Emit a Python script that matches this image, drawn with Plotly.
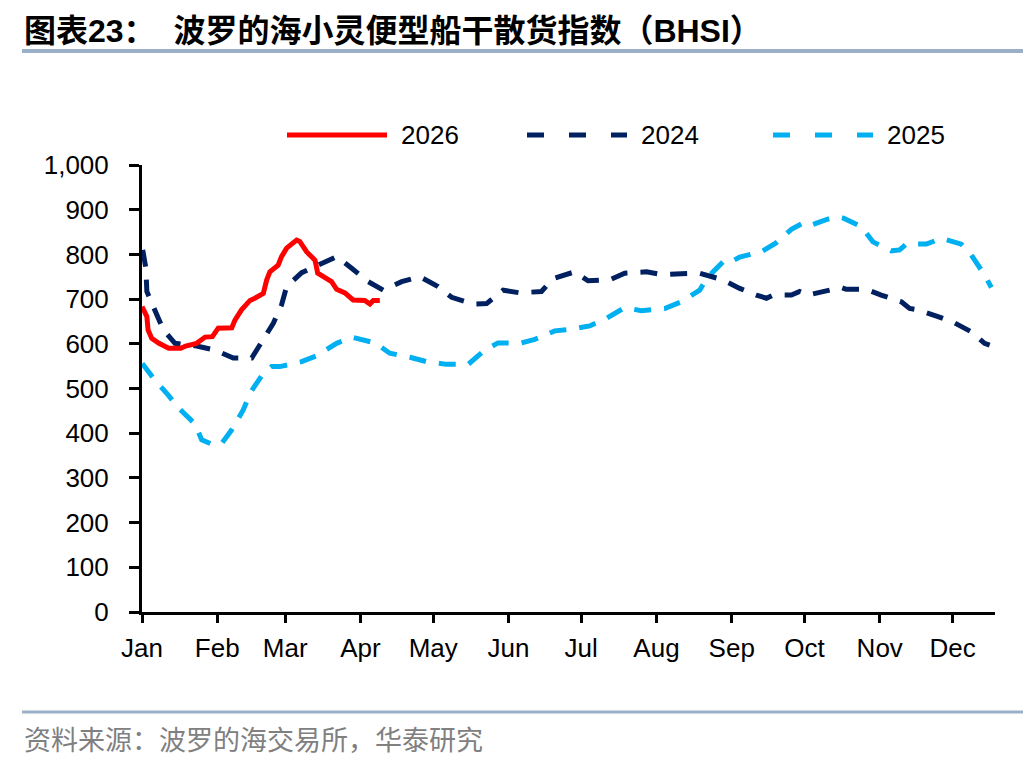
import plotly.graph_objects as go

# ---------------- data ----------------
months = ["Jan", "Feb", "Mar", "Apr", "May", "Jun", "Jul", "Aug", "Sep", "Oct", "Nov", "Dec"]
month_start_day = [1, 32, 60, 91, 121, 152, 182, 213, 244, 274, 305, 335]
y_ticks = [0, 100, 200, 300, 400, 500, 600, 700, 800, 900, 1000]

day_2026 = [1, 3, 3.5, 5, 8, 12, 17, 19, 23.5, 27, 30, 32.4, 38, 39.3, 42, 45.5, 47.5, 51, 52.4,
            53.7, 57.1, 58.5, 60.6, 64.7, 66, 68.8, 72.3, 73.4, 77.1, 79.1, 81.2, 84.6, 88, 92.8,
            94.9, 96.3, 99]
bhsi_2026 = [683, 661, 631, 612, 601, 590, 590, 595, 601, 615, 616, 635, 636, 653, 676, 697, 702,
             713, 743, 761, 776, 795, 814, 832, 829, 806, 787, 758, 746, 739, 722, 714, 698, 697,
             689, 697, 697]

day_2024 = [1.3, 2.6, 3, 6.4, 9.8, 14.6, 23.5, 31.1, 38.6, 46.2, 51, 55.1, 58.5, 60.6, 66.8, 73.6,
            81.2, 87.4, 94.2, 100.4, 108, 115.5, 123, 128.6, 137.4, 143, 149.8, 156.7, 165.6, 170.4,
            179.3, 184.8, 193.7, 199.9, 208.9, 215, 224.6, 230.8, 240.4, 247.3, 254.2, 258.3, 261,
            268.6, 272, 275.4, 284.4, 289.2, 291.2, 299.5, 305.6, 313.9, 317.3, 320.7, 329, 335.1,
            342.7, 348.2, 350.3]
bhsi_2024 = [810, 769, 717, 676, 631, 601, 595, 586, 568, 568, 612, 646, 687, 728, 759, 776, 795,
             769, 739, 720, 739, 750, 728, 704, 689, 690, 720, 714, 717, 746, 761, 741, 743, 758,
             761, 755, 756, 758, 743, 724, 709, 702, 709, 709, 717, 709, 720, 726, 722, 722, 709,
             694, 679, 676, 661, 649, 627, 601, 597]

day_2025 = [1.1, 5.7, 11.8, 16.7, 22.8, 25.6, 30.4, 33.8, 37.9, 42.7, 45.9, 51, 54.4, 57.8, 66.8,
            72.9, 81.2, 87.4, 97, 103.1, 111.4, 118.3, 126.5, 135.4, 142.3, 147.7, 156.7, 162.9,
            171.1, 177.3, 185.5, 192.4, 199.9, 206.8, 216.4, 223.3, 230.8, 233.6, 241.1, 243.9,
            247.3, 256.2, 262.1, 268.6, 272.7, 274.8, 283, 287.1, 290.1, 297.4, 302.2, 309.8,
            313.2, 315.9, 324.2, 330.4, 338.6, 342.7, 348.2, 351]
bhsi_2025 = [556, 523, 485, 453, 421, 385, 374, 377, 407, 452, 493, 534, 549, 549, 560, 573, 601,
             615, 602, 579, 570, 560, 554, 554, 586, 602, 601, 610, 629, 632, 640, 657, 681, 674,
             679, 694, 720, 746, 787, 784, 794, 806, 825, 856, 868, 862, 878, 884, 881, 862, 828,
             808, 810, 823, 823, 836, 823, 799, 754, 726]

series_names = ["2026", "2024", "2025"]
series_colors = ["#FF0000", "#002060", "#00B0F0"]
series_dash = ["solid", "17px,13px", "17px,13px"]

title_text = "图表23：  波罗的海小灵便型船干散货指数（BHSI）"
source_text = "资料来源：波罗的海交易所，华泰研究"

# ---------------- figure ----------------
W, H = 1036, 764
OFF = 8  # page body margin offset
REF_L, REF_R, REF_T, REF_B = 142, 995, 165, 612
L = REF_L - OFF
T = REF_T - OFF
R = W - (REF_R - OFF)
B = H - (REF_B - OFF)
PW, PH = W - L - R, H - T - B


def px_x(p):
    return (p - REF_L) / PW


def px_y(p):
    return (REF_B - p) / PH


fig = go.Figure()
data_x = [day_2026, day_2024, day_2025]
data_y = [bhsi_2026, bhsi_2024, bhsi_2025]
for i in [2, 1, 0]:
    fig.add_trace(go.Scatter(
        x=data_x[i], y=data_y[i], name=series_names[i], mode="lines",
        line=dict(color=series_colors[i], width=5, dash=series_dash[i]),
        showlegend=False, hoverinfo="skip",
    ))

tick_font = dict(family="Liberation Sans, Arial, sans-serif", size=26, color="#000000")

fig.update_layout(
    width=W, height=H,
    margin=dict(l=L, r=R, t=T, b=B),
    paper_bgcolor="#FFFFFF", plot_bgcolor="#FFFFFF",
    font=tick_font,
    xaxis=dict(
        range=[1, 352.5], tickmode="array", tickvals=month_start_day, ticktext=months,
        showgrid=False, zeroline=False, showline=True, linecolor="#000000", linewidth=3,
        ticks="outside", ticklen=8, tickwidth=2.5, tickcolor="#000000",
        ticklabelstandoff=3, tickfont=tick_font,
    ),
    yaxis=dict(
        range=[0, 1000], tickmode="array", tickvals=y_ticks,
        ticktext=[f"{v:,}" for v in y_ticks],
        showgrid=False, zeroline=False, showline=True, linecolor="#000000", linewidth=3,
        ticks="outside", ticklen=10, tickwidth=2.5, tickcolor="#000000",
        ticklabelstandoff=15, tickfont=tick_font,
    ),
)

shapes = []
annotations = []

annotations.append(dict(
    text=title_text, xref="paper", yref="paper", x=px_x(22), y=px_y(31),
    xanchor="left", yanchor="middle", showarrow=False,
    font=dict(family="Liberation Sans, Noto Sans CJK SC, sans-serif", size=32, color="#000000",
              weight="bold"),
))
shapes.append(dict(type="line", xref="paper", yref="paper", x0=px_x(22), x1=px_x(1023),
                   y0=px_y(51), y1=px_y(51), line=dict(color="#9AB0C9", width=4)))

shapes.append(dict(type="line", xref="paper", yref="paper", x0=px_x(22), x1=px_x(1023),
                   y0=px_y(712), y1=px_y(712), line=dict(color="#9AB0C9", width=3)))
annotations.append(dict(
    text=source_text, xref="paper", yref="paper", x=px_x(22), y=px_y(738),
    xanchor="left", yanchor="middle", showarrow=False,
    font=dict(family="Noto Sans CJK SC, sans-serif", size=27, color="#808080"),
))

legend_x0 = [287, 527, 773]
for i in range(3):
    shapes.append(dict(type="line", xref="paper", yref="paper",
                       x0=px_x(legend_x0[i]), x1=px_x(legend_x0[i] + 100),
                       y0=px_y(135), y1=px_y(135),
                       line=dict(color=series_colors[i], width=5,
                                 dash="solid" if i == 0 else "17px,25px")))
    annotations.append(dict(
        text=series_names[i], xref="paper", yref="paper", x=px_x(legend_x0[i] + 112), y=px_y(135),
        xanchor="left", yanchor="middle", showarrow=False, font=tick_font,
    ))

fig.update_layout(shapes=shapes, annotations=annotations)
fig.write_html("out.html")
